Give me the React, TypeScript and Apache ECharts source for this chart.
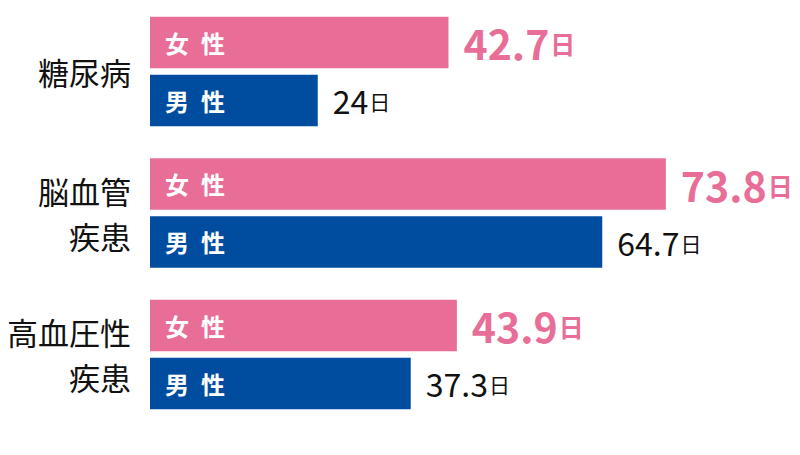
import React, { useEffect, useRef } from 'react';
import * as echarts from 'echarts';

const categories = ['糖尿病', '脳血管\n疾患', '高血圧性\n疾患'];
const femaleDays = [42.7, 73.8, 43.9];
const maleDays = [24, 64.7, 37.3];
const femaleLabel = '女\u2002性';
const maleLabel = '男\u2002性';
const unit = '日';

const PINK = '#E86E98';
const BLUE = '#004DA0';
const FONT = '"Noto Sans CJK JP", "Noto Sans", sans-serif';

export default function App() {
  const ref = useRef<HTMLDivElement>(null);

  useEffect(() => {
    if (!ref.current) return;
    const chart = echarts.init(ref.current, undefined, { renderer: 'svg' });
    const zeros = categories.map(() => 0);
    chart.setOption({
      animation: false,
      grid: { left: 150, top: 0.7, height: 424.5, right: 20.9, containLabel: false },
      xAxis: { type: 'value', min: 0, max: 90, show: false },
      yAxis: {
        type: 'category',
        data: categories,
        inverse: true,
        axisLine: { show: false },
        axisTick: { show: false },
        axisLabel: {
          margin: 19,
          fontSize: 31,
          lineHeight: 45,
          color: '#111',
          fontFamily: FONT,
        },
      },
      series: [
        {
          type: 'bar',
          name: '女性',
          stack: 'f',
          data: femaleDays,
          barWidth: 51.5,
          barGap: '12.6%',
          itemStyle: { color: PINK },
          label: {
            show: true,
            position: 'insideLeft',
            distance: 15,
            formatter: femaleLabel,
            color: '#fff',
            fontSize: 24,
            fontWeight: 'bold',
            fontFamily: FONT,
          },
        },
        {
          type: 'bar',
          name: '女性値',
          stack: 'f',
          data: zeros,
          barGap: '12.6%',
          itemStyle: { color: PINK },
          label: {
            show: true,
            position: 'right',
            distance: 15,
            formatter: (p: any) => `{v|${femaleDays[p.dataIndex]}}{u|${unit}}`,
            rich: {
              v: { fontSize: 41, fontWeight: 'bold', color: PINK, fontFamily: FONT },
              u: { fontSize: 25, fontWeight: 'bold', color: PINK, fontFamily: FONT, padding: [2, 0, 0, 1] },
            },
          },
        },
        {
          type: 'bar',
          name: '男性',
          stack: 'm',
          data: maleDays,
          barWidth: 51.5,
          barGap: '12.6%',
          itemStyle: { color: BLUE },
          label: {
            show: true,
            position: 'insideLeft',
            distance: 15,
            formatter: maleLabel,
            color: '#fff',
            fontSize: 24,
            fontWeight: 'bold',
            fontFamily: FONT,
          },
        },
        {
          type: 'bar',
          name: '男性値',
          stack: 'm',
          data: zeros,
          barGap: '12.6%',
          itemStyle: { color: BLUE },
          label: {
            show: true,
            position: 'right',
            distance: 15,
            formatter: (p: any) => `{v|${maleDays[p.dataIndex]}}{u|${unit}}`,
            rich: {
              v: { fontSize: 32, color: '#111', fontFamily: FONT },
              u: { fontSize: 21, color: '#111', fontFamily: FONT, padding: [2, 0, 0, 1] },
            },
          },
        },
      ],
    });
    return () => chart.dispose();
  }, []);

  return (
    <div
      ref={ref}
      style={{ position: 'absolute', left: 0, top: 0, width: 800, height: 455 }}
    />
  );
}
